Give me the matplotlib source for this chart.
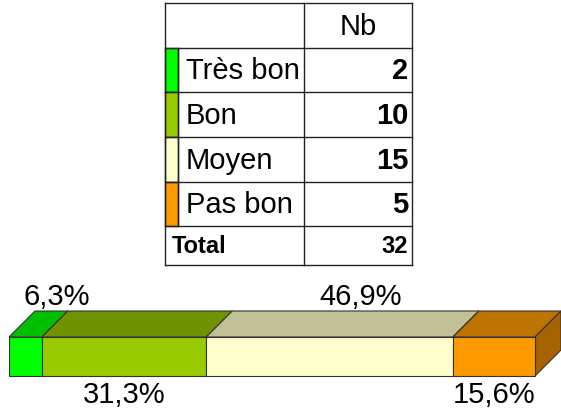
import matplotlib.pyplot as plt
import numpy as np
from matplotlib.patches import Polygon, Rectangle

categories = ['Très bon', 'Bon', 'Moyen', 'Pas bon']
counts = [2, 10, 15, 5]
header = 'Nb'
total_label = 'Total'

front_colors = ['#00FF00', '#99CC00', '#FFFFCC', '#FF9900']
top_colors = ['#00C000', '#709400', '#C0C096', '#BF7300']
side_color = '#A66300'

plt.rcParams['font.family'] = ['Liberation Sans', 'DejaVu Sans']

W, H = 561, 411
fig = plt.figure(figsize=(W / 100, H / 100), dpi=100)

# ---- tableau (coordonnées en pixels dans l'axe)
tx0, ty0, tw, th = 165, 3, 248, 263
tab = fig.add_axes([tx0 / W, 1 - (ty0 + th) / H, tw / W, th / H])
tab.set_xlim(0, tw)
tab.set_ylim(th, 0)
tab.axis('off')

rows = [0, 45, 89, 134, 179, 223, 262]
c_sw, c_div, c_right = 13, 139, 247
lc = '#222222'
lw = 1.0
fs = 21

for y in rows:
    tab.plot([0, c_right], [y, y], color=lc, lw=lw, clip_on=False)
for x in [0, c_div, c_right]:
    tab.plot([x, x], [0, rows[-1]], color=lc, lw=lw, clip_on=False)
tab.plot([c_sw, c_sw], [rows[1], rows[5]], color=lc, lw=lw, clip_on=False)

tab.text((c_div + c_right) / 2, (rows[0] + rows[1]) / 2 + 1, header,
         ha='center', va='center', fontsize=fs)
for i, (cat, n) in enumerate(zip(categories, counts)):
    r0, r1 = rows[i + 1], rows[i + 2]
    tab.add_patch(Rectangle((0, r0), c_sw, r1 - r0, facecolor=front_colors[i],
                            edgecolor=lc, lw=lw, clip_on=False))
    yc = (r0 + r1) / 2 + 1
    tab.text(21, yc, cat, ha='left', va='center', fontsize=fs)
    tab.text(c_right - 4, yc, str(n), ha='right', va='center',
             fontsize=fs, fontweight='bold')
yc = (rows[5] + rows[6]) / 2 + 1
tab.text(7, yc, total_label, ha='left', va='center', fontsize=17, fontweight='bold')
tab.text(c_right - 4, yc, str(sum(counts)), ha='right', va='center',
         fontsize=17, fontweight='bold')

# ---- barre empilée 3D
bax = fig.add_axes([9 / W, 0, 552 / W, 131 / H])
bax.set_xlim(0, 552 / 526 * 100)
bax.set_ylim(0, 131)
bax.axis('off')

total = sum(counts)
pct = np.array(counts) / total * 100
lefts = np.concatenate([[0], np.cumsum(pct)[:-1]])
bottom, height = 35, 39
dx, dy = 26 / 526 * 100, 26
ec = '#333333'

bax.barh(bottom, pct, left=lefts, height=height, align='edge',
         color=front_colors, edgecolor=ec, linewidth=0.8, zorder=3)
top = bottom + height
for i in range(len(counts)):
    x0, x1 = lefts[i], lefts[i] + pct[i]
    bax.add_patch(Polygon([(x0, top), (x1, top), (x1 + dx, top + dy), (x0 + dx, top + dy)],
                          closed=True, facecolor=top_colors[i], edgecolor=ec,
                          linewidth=0.8, zorder=2))
xr = lefts[-1] + pct[-1]
bax.add_patch(Polygon([(xr, bottom), (xr, top), (xr + dx, top + dy), (xr + dx, bottom + dy)],
                      closed=True, facecolor=side_color, edgecolor=ec,
                      linewidth=0.8, zorder=2, clip_on=False))

for i, p in enumerate(pct):
    lab = ('%.1f%%' % (np.floor(p * 10 + 0.5) / 10)).replace('.', ',')
    xc = lefts[i] + p / 2
    if i % 2 == 0:
        bax.text(xc + dx + 1, 114, lab, ha='center', va='center', fontsize=fs)
    else:
        bax.text(xc, 16, lab, ha='center', va='center', fontsize=fs)

fig.savefig('out.png', dpi=100)
